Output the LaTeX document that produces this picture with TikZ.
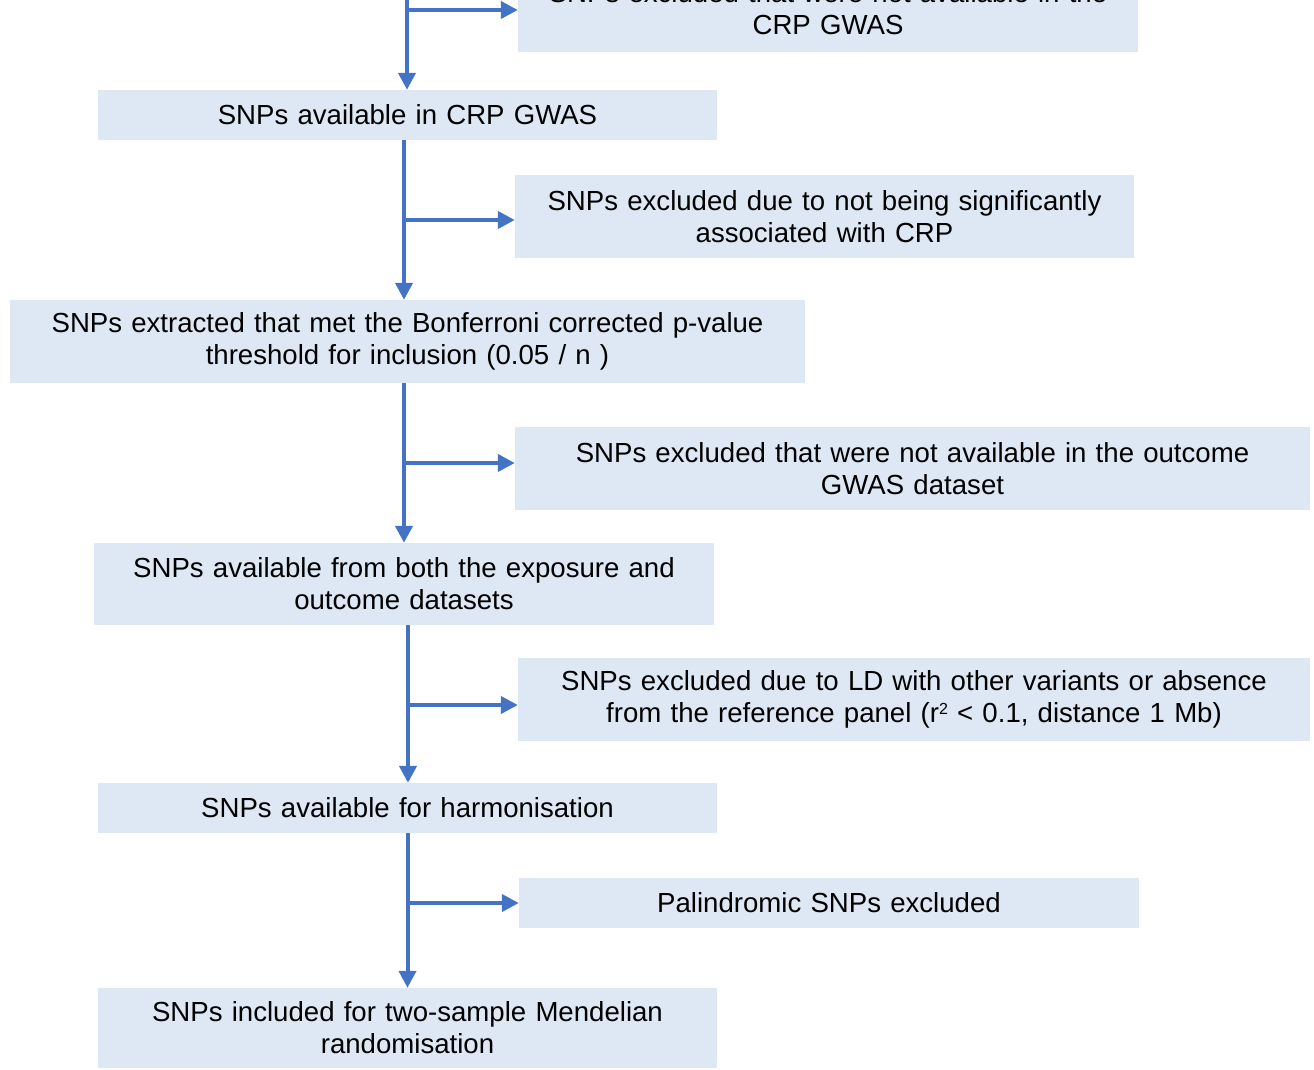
\documentclass[tikz,border=0pt]{standalone}
\usepackage{fontspec}
\setmainfont{Liberation Sans}
\usetikzlibrary{arrows.meta,calc}
\definecolor{boxfill}{HTML}{DEE8F5}
\definecolor{flow}{HTML}{4472C4}
\begin{document}
\begin{tikzpicture}[x=1pt,y=-1pt,
 box/.style={fill=boxfill, inner sep=0pt, align=center, font=\fontsize{27.6}{32}\selectfont},
 flowline/.style={draw=flow, line width=4pt, -{Triangle[length=17pt,width=17pt]}},
 branch/.style={draw=flow, line width=4pt, -{Triangle[length=17pt,width=17pt]}}]
\useasboundingbox (0,0) rectangle (1314,1069);
\begin{scope}
\clip (0,0) rectangle (1314,1069);
\node[box, minimum width=620pt, minimum height=86pt, text width=610pt] (T) at (828,9) {SNPs excluded that were not available in the\\CRP GWAS};
\end{scope}
\node[box, minimum width=619pt, minimum height=50pt, text width=610pt] (A) at (407.5,115) {SNPs available in CRP GWAS};
\node[box, minimum width=619pt, minimum height=83pt, text width=610pt] (B) at (824.5,216.5) {SNPs excluded due to not being significantly\\associated with CRP};
\node[box, minimum width=795pt, minimum height=83pt, text width=785pt] (C) at (407.5,341.5) {SNPs extracted that met the Bonferroni corrected p-value\\threshold for inclusion (0.05 / n )};
\node[box, minimum width=795pt, minimum height=83pt, text width=785pt] (D) at (912.5,468.5) {SNPs excluded that were not available in the outcome\\GWAS dataset};
\node[box, minimum width=620pt, minimum height=82pt, text width=610pt] (E) at (404,584) {SNPs available from both the exposure and\\outcome datasets};
\node[box, minimum width=792pt, minimum height=83pt, text width=785pt] (F) at (914,699.5) {SNPs excluded due to LD with other variants or absence\\from the reference panel (r{\fontsize{16}{16}\selectfont\raisebox{8pt}{2}} < 0.1, distance 1 Mb)};
\node[box, minimum width=619pt, minimum height=50pt, text width=610pt] (G) at (407.5,808) {SNPs available for harmonisation};
\node[box, minimum width=620pt, minimum height=50pt, text width=610pt] (H) at (829,903) {Palindromic SNPs excluded};
\node[box, minimum width=619pt, minimum height=80pt, text width=610pt] (I) at (407.5,1028) {SNPs included for two-sample Mendelian\\randomisation};
\coordinate (top) at (407,-5);
\coordinate (j1) at (407,10);
\coordinate (j2) at (404,220);
\coordinate (j3) at (404,463);
\coordinate (j4) at (408,705);
\coordinate (j5) at (407.5,903);
% vertical flow
\draw[flowline] (top) -- (top |- A.north);
\draw[flowline] (j2 |- A.south) -- (j2 |- C.north);
\draw[flowline] (j3 |- C.south) -- (j3 |- E.north);
\draw[flowline] (j4 |- E.south) -- (j4 |- G.north);
\draw[flowline] (G.south) -- (I.north);
% branches
\draw[branch] ([xshift=-2pt]j1) -- (j1 -| T.west);
\draw[branch] ([xshift=-2pt]j2) -- (j2 -| B.west);
\draw[branch] ([xshift=-2pt]j3) -- (j3 -| D.west);
\draw[branch] ([xshift=-2pt]j4) -- (j4 -| F.west);
\draw[branch] ([xshift=-2pt]j5) -- (j5 -| H.west);
\end{tikzpicture}
\end{document}
